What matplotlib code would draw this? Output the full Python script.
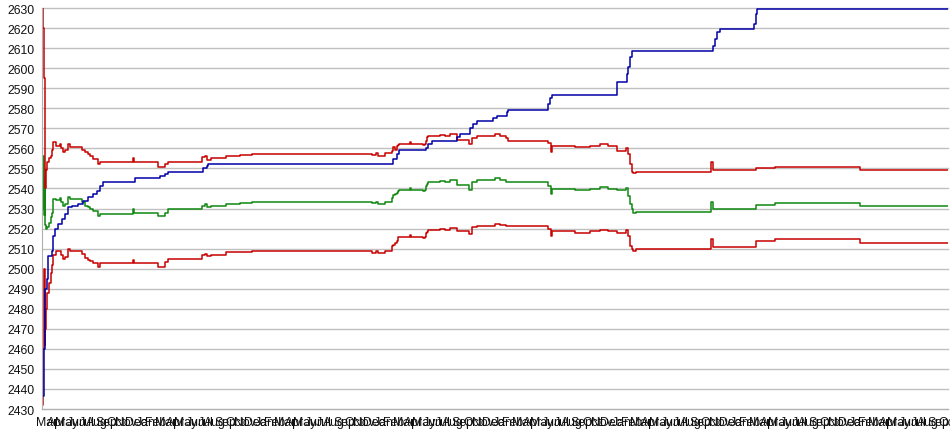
import numpy as np
import matplotlib
matplotlib.use('Agg')
import matplotlib.pyplot as plt

plt.rcParams['font.family'] = ['Liberation Sans', 'DejaVu Sans']

# months since the first March
band_t = [0.05, 0.15, 0.23, 0.28, 0.33, 0.43, 0.54, 0.68, 0.86, 0.96,
          1.11, 1.41, 1.82, 1.92, 2.15, 2.32, 2.66, 2.83, 4.01, 4.34,
          4.68, 4.85, 5.18, 5.69, 5.86, 9.22, 9.34, 11.72, 12.42, 12.76,
          16.13, 16.46, 16.70, 17.04, 18.59, 20.0, 21.24, 33.33, 33.74, 33.94,
          34.65, 35.32, 35.48, 35.66, 35.83, 35.99, 36.09, 37.17, 37.27, 38.48,
          38.69, 38.79, 38.92, 39.02, 40.20, 40.71, 41.21, 41.89, 43.17, 43.40,
          43.91, 45.76, 46.26, 46.87, 47.10, 51.14, 51.41, 51.52, 53.84, 55.35,
          56.36, 57.17, 58.11, 58.99, 59.22, 59.39, 59.56, 59.73, 60.0, 67.58,
          67.78, 72.07, 74.04, 82.63, 86.67]
upper = [2630, 2620, 2595, 2592, 2540, 2549, 2553, 2555, 2556, 2559,
         2563, 2561, 2562, 2560, 2558, 2559, 2562, 2560.5, 2559.3, 2558,
         2557.2, 2556.4, 2554.7, 2552.2, 2553.3, 2555, 2553.3, 2550.5, 2552.2, 2553.3,
         2555.5, 2556, 2554.3, 2555, 2556, 2556.8, 2557.2, 2556.5, 2557.5, 2556.3,
         2557.5, 2558.8, 2560.5, 2559.3, 2561, 2561.5, 2562.2, 2563, 2562.2, 2561.5,
         2562.2, 2563.9, 2565.5, 2566, 2566.5, 2566, 2567, 2564.3, 2562.2, 2565,
         2566.3, 2567, 2566.3, 2565, 2563.9, 2562.7, 2558.3, 2561, 2560.5, 2561,
         2562, 2561, 2558.8, 2560, 2557.2, 2552.2, 2548.4, 2547.7, 2548.2, 2553,
         2549, 2550, 2550.7, 2549.3, 2549]
middle = [2530, 2556, 2527, 2545, 2522, 2520, 2521, 2523, 2526, 2528,
          2534.5, 2534, 2535, 2533, 2531, 2532, 2535.5, 2534.5, 2533, 2531,
          2530.5, 2530, 2529, 2526.4, 2527.3, 2530, 2528, 2526.4, 2528, 2529.8,
          2531.4, 2532.2, 2530.6, 2531, 2532.2, 2532.8, 2533.4, 2532.5, 2533.4, 2532.3,
          2533.4, 2535, 2536.7, 2537.2, 2537.5, 2538.5, 2539.2, 2540, 2539.2, 2538.5,
          2539.2, 2541, 2542, 2543, 2543.5, 2543, 2544, 2541.7, 2539.2, 2543.4,
          2544.2, 2545, 2544, 2543, 2543, 2541.4, 2537.2, 2539.7, 2539.2, 2539.7,
          2540.5, 2539.7, 2539, 2540, 2536.4, 2532.2, 2529.8, 2528, 2528.5, 2533.2,
          2529.8, 2531.8, 2532.7, 2531.2, 2531]
lower = [2432, 2460, 2500, 2462, 2470, 2480, 2488, 2493, 2498, 2502,
         2507, 2509, 2509, 2507, 2505, 2506, 2510, 2509, 2507.5, 2505.5,
         2504.5, 2504, 2503, 2501, 2502.7, 2504.5, 2502.7, 2501, 2503.3, 2504.8,
         2506.8, 2507.3, 2506.3, 2506.8, 2508.1, 2508.4, 2508.7, 2508, 2509, 2508,
         2509, 2511.4, 2512, 2513, 2514, 2515.6, 2516, 2516.8, 2516, 2515.3,
         2516, 2517.8, 2518.5, 2519.4, 2520, 2519.4, 2520.2, 2519, 2517.3, 2520.6,
         2521.4, 2522.2, 2521.9, 2521.4, 2521.4, 2520, 2516.1, 2518.6, 2518, 2518.6,
         2519.4, 2518.6, 2518, 2519.4, 2516.1, 2511.4, 2509.8, 2509, 2509.8, 2514.8,
         2510.8, 2513.8, 2514.8, 2513, 2512.8]

top_t = [0.05, 0.23, 0.28, 0.35, 0.47, 0.64, 0.98, 1.14, 1.31, 1.65,
         1.99, 2.32, 2.66, 3.0, 3.67, 4.17, 4.68, 5.18, 5.52, 5.86,
         6.19, 9.39, 11.92, 12.42, 12.76, 16.29, 16.64, 16.80, 35.48, 35.83,
         36.09, 38.79, 39.02, 39.36, 41.95, 42.22, 43.23, 43.57, 43.91, 45.59,
         45.93, 46.94, 47.10, 51.14, 51.31, 51.48, 58.05, 58.11, 59.12, 59.22,
         59.39, 59.63, 67.81, 67.98, 68.21, 68.48, 71.95, 72.12, 72.25]
top_v = [2436.5, 2460, 2480, 2490, 2495, 2506.5, 2509, 2516.4, 2519.8, 2522.3,
         2524.8, 2527.3, 2530.6, 2531.4, 2532.2, 2533.9, 2535.6, 2537.2, 2538.9, 2541.4,
         2543.1, 2545, 2546, 2547.2, 2548, 2550, 2551.4, 2552.2, 2554.7, 2557.2,
         2559, 2560.4, 2562.3, 2563.9, 2565.5, 2567, 2570, 2572.1, 2573.8, 2575,
         2576, 2578, 2579.1, 2582, 2585, 2586.8, 2590.4, 2592.9, 2597, 2600.4,
         2605.4, 2608.8, 2611.2, 2614.5, 2617.8, 2619.5, 2622, 2627, 2629.5]

month_names = ['Mar', 'Apr', 'May', 'Jun', 'Jul', 'Aug',
               'Sep', 'Oct', 'Nov', 'Dec', 'Jan', 'Feb']
n_months = 92
x_end = 91.5

fig = plt.figure(figsize=(9.5, 4.35), dpi=100)
ax = fig.add_axes([42 / 950, 25 / 435, 906 / 950, 401 / 435])

def steps(t, v):
    # hold the last value up to the right edge
    return np.append(t, x_end), np.append(v, v[-1])

ax.step(*steps(band_t, middle), where='post', color='#108810', lw=1.1)
ax.step(*steps(band_t, lower), where='post', color='#c80000', lw=1.1)
ax.step(*steps(band_t, upper), where='post', color='#c80000', lw=1.1)
ax.step(*steps(top_t, top_v), where='post', color='#0000a8', lw=1.1)

ax.set_xlim(0, x_end)
ax.set_ylim(2430, 2630)
ax.set_yticks(np.arange(2430, 2631, 10))
ax.set_xticks(np.arange(n_months) + 0.5)
ax.set_xticklabels([month_names[i % 12] for i in range(n_months)])
ax.tick_params(length=0, labelsize=8.8, colors='#111111')
ax.tick_params(axis='y', pad=5)
ax.tick_params(axis='x', pad=5)

ax.yaxis.grid(True, color='#c0c0c0', lw=1)
ax.set_axisbelow(True)
for gl in ax.get_ygridlines():
    gl.set_clip_on(False)
for s in ['top', 'right']:
    ax.spines[s].set_visible(False)
for s in ['left', 'bottom']:
    ax.spines[s].set_color('#b0b0b0')

fig.savefig('out.png', dpi=100)
